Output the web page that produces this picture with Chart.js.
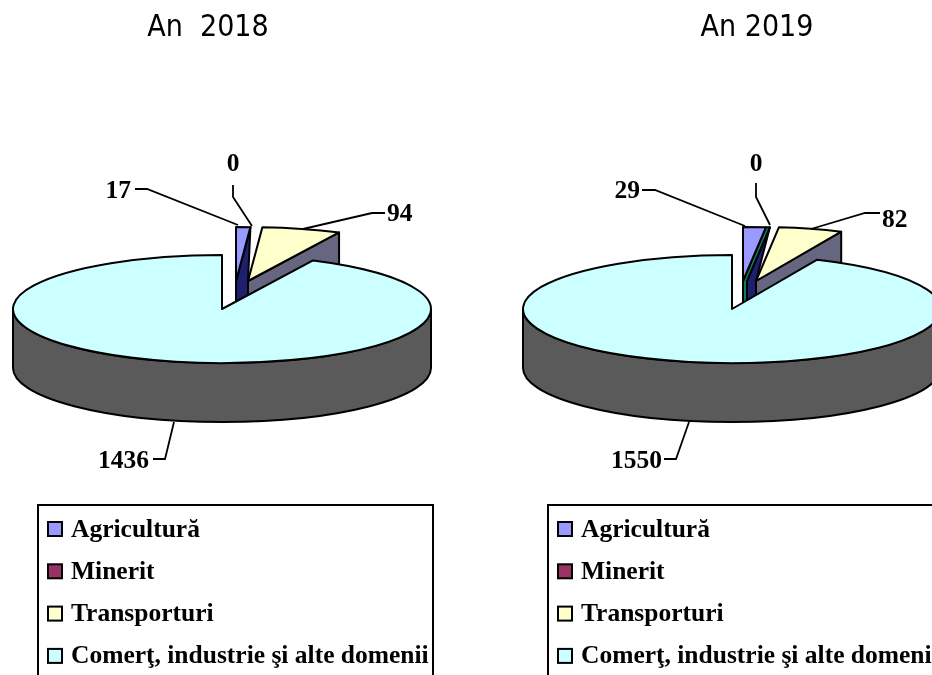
<!DOCTYPE html>
<html>
<head>
<meta charset="utf-8">
<title>An 2018 / An 2019</title>
<script src="https://cdn.jsdelivr.net/npm/chart.js@4"></script>
<style>
    html, body { margin: 0; padding: 0; background: #fff; overflow: hidden; width: 932px; height: 675px; }
    .pane { position: absolute; top: 0; width: 510px; height: 675px; }
    #pane2018 { left: 0; }
    #pane2019 { left: 510px; }
</style>
</head>
<body>
<div class="pane" id="pane2018"><canvas id="chart2018" width="510" height="675"></canvas></div>
<div class="pane" id="pane2019"><canvas id="chart2019" width="510" height="675"></canvas></div>
<script>
// Chart data
const categories = ["Agricultură", "Minerit", "Transporturi", "Comerţ, industrie şi alte domenii"];
const values2018 = [17, 0, 94, 1436];
const values2019 = [29, 0, 82, 1550];
const titleLeft = "An  2018";
const titleRight = "An 2019";

// Colours
const topColors = ["#9999FF", "#993366", "#FFFFCC", "#CCFFFF"];
const sideColors = ["#0E7A60", "#1F1F70", "#666680", "#5A5A5A"];
const LINE = "#000";

// Look of the tilted pie
const SQUASH = 54 / 209;
const DEPTH = 59;
const LABEL_FONT = "bold 25.5px 'Liberation Serif'";
const TITLE_FONT = "30px 'DejaVu Sans Condensed', 'Noto Sans'";

// Pulled out slices, per chart: [dx, dy] for each slice
const shifts2018 = [[14, -28], [14, -28], [26, -28], [0, 0]];
const shifts2019 = [[11, -28], [15, -28], [24, -28], [0, 0]];

// Text positions and the leader lines, per chart
const leaders2018 = [
    { slice: 0, x: 131, y: 191, align: "right", path: [[135, 189], [147, 189], [238, 225]] },
    { slice: 1, x: 233, y: 164, align: "center", path: [[233, 185], [233, 197], [252, 226]] },
    { slice: 2, x: 387, y: 214, align: "left", path: [[385, 213], [372, 213], [303, 229]] },
    { slice: 3, x: 149, y: 461, align: "right", path: [[153, 459], [165, 459], [174, 422]] }
];
const leaders2019 = [
    { slice: 0, x: 130, y: 191, align: "right", path: [[132, 190], [145, 190], [235, 226]] },
    { slice: 1, x: 246, y: 164, align: "center", path: [[246, 183], [246, 197], [260, 225]] },
    { slice: 2, x: 372, y: 220, align: "left", path: [[370, 213], [355, 213], [301, 229]] },
    { slice: 3, x: 152, y: 461, align: "right", path: [[154, 459], [166, 459], [179, 422]] }
];

/**
 * Gets the corners of a slice once it is tilted and pulled out.
 */
const sliceCorners = (arc, shift) => {
    const apex = [arc.x + shift[0], arc.y + shift[1]];
    const r = arc.outerRadius;
    const point = (angle) => [apex[0] + Math.cos(angle) * r, apex[1] + Math.sin(angle) * r * SQUASH];
    return { apex, start: point(arc.startAngle), end: point(arc.endAngle), r };
};

const polygon = (ctx, points, fill) => {
    ctx.beginPath();
    points.forEach((p, i) => (i ? ctx.lineTo(p[0], p[1]) : ctx.moveTo(p[0], p[1])));
    ctx.closePath();
    ctx.fillStyle = fill;
    ctx.fill();
    ctx.stroke();
};

const down = (p) => [p[0], p[1] + DEPTH];

/**
 * Fills one slice with the library's own arc element, then outlines it with an even line.
 */
const drawTop = (ctx, arc, shift) => {
    const c = sliceCorners(arc, shift);
    ctx.save();
    ctx.translate(c.apex[0], c.apex[1]);
    ctx.scale(1, SQUASH);
    ctx.translate(-arc.x, -arc.y);
    arc.draw(ctx);
    ctx.restore();

    ctx.beginPath();
    ctx.moveTo(c.apex[0], c.apex[1]);
    ctx.lineTo(c.start[0], c.start[1]);
    ctx.ellipse(c.apex[0], c.apex[1], c.r, c.r * SQUASH, 0, arc.startAngle, arc.endAngle);
    ctx.closePath();
    ctx.stroke();
};

// Draws the pie as a tilted disc with a rim and pulled out slices
const tiltedPie = {
    id: "tiltedPie",
    beforeDatasetsDraw(chart, args, opts) {
        const ctx = chart.ctx;
        const arcs = chart.getDatasetMeta(0).data;
        const [agri, mining, transport, rest] = arcs.map((arc, i) => sliceCorners(arc, opts.shifts[i]));
        ctx.save();
        ctx.lineWidth = 2;
        ctx.lineJoin = "round";
        ctx.strokeStyle = LINE;

        // Cut faces of the small slices, the big slice covers their lower part
        polygon(ctx, [transport.end, transport.apex, down(transport.apex), down(transport.end)], sideColors[2]);
        drawTop(ctx, arcs[2], opts.shifts[2]);
        polygon(ctx, [mining.start, mining.apex, down(mining.apex), down(transport.apex), transport.apex], sideColors[1]);
        polygon(ctx, [agri.end, agri.apex, down(agri.apex), down(mining.apex), mining.apex, mining.start], sideColors[0]);
        drawTop(ctx, arcs[0], opts.shifts[0]);

        // Rim of the big slice
        const cx = rest.apex[0], cy = rest.apex[1], rx = rest.r, ry = rest.r * SQUASH;
        ctx.beginPath();
        ctx.ellipse(cx, cy + DEPTH, rx, ry, 0, 0, Math.PI);
        ctx.lineTo(cx - rx, cy);
        ctx.ellipse(cx, cy, rx, ry, 0, Math.PI, 0, true);
        ctx.closePath();
        ctx.fillStyle = sideColors[3];
        ctx.fill();
        ctx.stroke();
        drawTop(ctx, arcs[3], opts.shifts[3]);

        ctx.restore();
        return false; // the tilted slices replace the normal drawing
    }
};

// Draws the title, the value labels with leader lines and the legend box
const pieText = {
    id: "pieText",
    afterDraw(chart, args, opts) {
        const ctx = chart.ctx;
        const values = chart.data.datasets[0].data;
        ctx.save();
        ctx.textBaseline = "middle";

        ctx.font = TITLE_FONT;
        ctx.fillStyle = "#000";
        ctx.textAlign = "center";
        ctx.fillText(opts.title, opts.titleX, 28);

        ctx.strokeStyle = LINE;
        ctx.lineWidth = 1.8;
        ctx.font = LABEL_FONT;
        opts.leaders.forEach((leader) => {
            ctx.beginPath();
            leader.path.forEach((p, i) => (i ? ctx.lineTo(p[0], p[1]) : ctx.moveTo(p[0], p[1])));
            ctx.stroke();
            ctx.textAlign = leader.align;
            ctx.fillText(String(values[leader.slice]), leader.x, leader.y);
        });

        // Legend box, it runs off the bottom of the page
        ctx.lineWidth = 2;
        ctx.beginPath();
        ctx.moveTo(opts.boxX, 680);
        ctx.lineTo(opts.boxX, 505);
        ctx.lineTo(opts.boxX + 395, 505);
        ctx.lineTo(opts.boxX + 395, 680);
        ctx.stroke();
        ctx.textAlign = "left";
        ctx.font = LABEL_FONT;
        chart.data.labels.forEach((label, i) => {
            const rowY = 529 + i * 42.3;
            ctx.fillStyle = topColors[i];
            ctx.fillRect(opts.boxX + 10, rowY - 7, 14, 14);
            ctx.strokeRect(opts.boxX + 10, rowY - 7, 14, 14);
            ctx.fillStyle = "#000";
            ctx.fillText(label, opts.boxX + 33, rowY + 1);
        });
        ctx.restore();
    }
};

/**
 * Builds one of the two pies.
 */
const renderPie = (canvasId, values, shifts, leaders, title, titleX) => new Chart(document.getElementById(canvasId), {
    type: "pie",
    data: {
        labels: categories,
        datasets: [{ data: values, backgroundColor: topColors, borderWidth: 0 }]
    },
    options: {
        responsive: false,
        animation: false,
        layout: { padding: { left: 13, right: 79, top: 100, bottom: 157 } },
        plugins: {
            legend: { display: false },
            tooltip: { enabled: false },
            tiltedPie: { shifts },
            pieText: { leaders, title, titleX, boxX: 38 }
        }
    },
    plugins: [tiltedPie, pieText]
});

renderPie("chart2018", values2018, shifts2018, leaders2018, titleLeft, 208);
renderPie("chart2019", values2019, shifts2019, leaders2019, titleRight, 247);
</script>
</body>
</html>
